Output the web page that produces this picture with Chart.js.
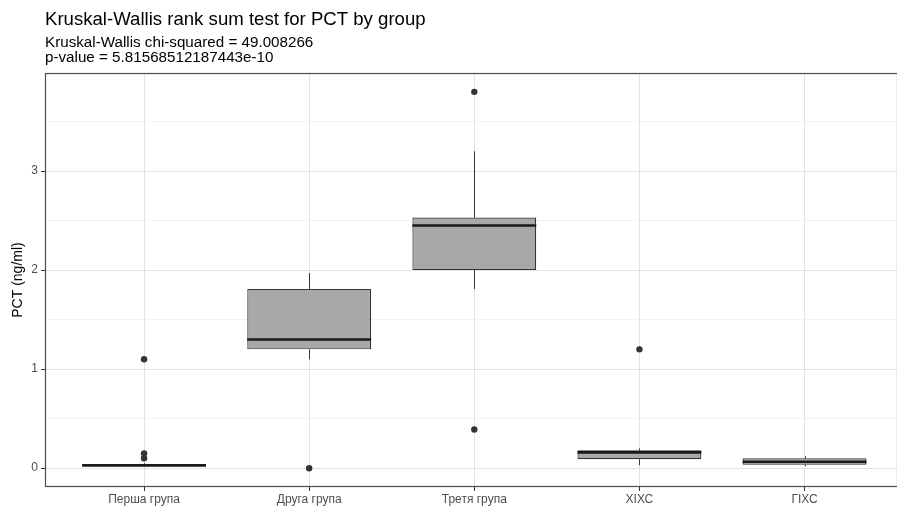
<!DOCTYPE html>
<html>
<head>
<meta charset="utf-8">
<script src="https://cdn.jsdelivr.net/npm/chart.js@4.4.0/dist/chart.umd.min.js"></script>
<style>
  html, body { margin: 0; padding: 0; background: #fff; overflow: hidden; }
  #wrap { width: 901px; height: 506px; }
</style>
</head>
<body>
<div id="wrap"><canvas id="chart"></canvas></div>
<script>
const groups = ['Перша група', 'Друга група', 'Третя група', 'ХІХС', 'ГІХС'];
const lowerWhisker = [0.01, 1.10, 1.81, 0.03, 0.02];
const q1 = [0.015, 1.20, 2.00, 0.09, 0.035];
const median = [0.03, 1.30, 2.45, 0.16, 0.065];
const q3 = [0.04, 1.81, 2.53, 0.18, 0.10];
const upperWhisker = [0.05, 1.97, 3.20, 0.20, 0.12];
const outliers = [[1.10, 0.15, 0.10], [0.0], [3.80, 0.39], [1.20], []];
const yTicks = [0, 0.5, 1, 1.5, 2, 2.5, 3, 3.5];

const FONT = '"Liberation Sans", Arial, sans-serif';
Chart.defaults.font.family = FONT;

// whiskers under the boxes, medians and panel border on top
const boxLines = {
  id: 'boxLines',
  beforeDatasetsDraw(chart) {
    const { ctx, scales: { x, y } } = chart;
    ctx.save();
    ctx.strokeStyle = '#333';
    ctx.lineWidth = 1;
    groups.forEach((g, i) => {
      const px = Math.round(x.getPixelForValue(i)) + 0.5;
      ctx.beginPath();
      ctx.moveTo(px, y.getPixelForValue(q3[i]));
      ctx.lineTo(px, y.getPixelForValue(upperWhisker[i]));
      ctx.moveTo(px, y.getPixelForValue(q1[i]));
      ctx.lineTo(px, y.getPixelForValue(lowerWhisker[i]));
      ctx.stroke();
    });
    ctx.restore();
  },
  afterDatasetsDraw(chart) {
    const { ctx, scales: { y }, chartArea: a } = chart;
    const bars = chart.getDatasetMeta(0).data;
    ctx.save();
    ctx.strokeStyle = '#1a1a1a';
    ctx.lineWidth = 2.6;
    bars.forEach((bar, i) => {
      const { x: cx, width } = bar.getProps(['x', 'width'], true);
      const py = y.getPixelForValue(median[i]);
      ctx.beginPath();
      ctx.moveTo(cx - width / 2, py);
      ctx.lineTo(cx + width / 2, py);
      ctx.stroke();
    });
    ctx.strokeStyle = '#4d4d4d';
    ctx.lineWidth = 1.2;
    ctx.strokeRect(a.left + 0.5, a.top + 0.5, a.right - a.left, a.bottom - a.top - 1);
    ctx.restore();
  }
};

new Chart(document.getElementById('chart'), {
  type: 'bar',
  data: {
    datasets: [
      {
        type: 'bar',
        data: groups.map((g, i) => ({ x: i, y: [q1[i], q3[i]] })),
        backgroundColor: '#a8a8a8',
        borderColor: '#333',
        borderWidth: 1.2,
        borderSkipped: false,
        barPercentage: 0.75,
        categoryPercentage: 1,
        order: 2
      },
      {
        type: 'line',
        data: outliers.flatMap((vals, i) => vals.map(v => ({ x: i, y: v }))),
        showLine: false,
        pointRadius: 3.2,
        pointBackgroundColor: '#333',
        pointBorderWidth: 0,
        order: 1
      }
    ]
  },
  options: {
    responsive: true,
    maintainAspectRatio: false,
    animation: false,
    layout: { padding: 0 },
    plugins: {
      legend: { display: false },
      tooltip: { enabled: false },
      title: {
        display: true,
        text: 'Kruskal-Wallis rank sum test for PCT by group',
        align: 'start',
        fullSize: false,
        color: '#000',
        font: { size: 18.6, weight: 'normal', lineHeight: 1.2 },
        padding: { top: 9, bottom: 3.4 }
      },
      subtitle: {
        display: true,
        text: ['Kruskal-Wallis chi-squared = 49.008266', 'p-value = 5.81568512187443e-10'],
        align: 'start',
        fullSize: false,
        color: '#000',
        font: { size: 15.2, weight: 'normal', lineHeight: 1.0 },
        padding: { top: 0, bottom: 7.9 }
      }
    },
    scales: {
      x: {
        type: 'linear',
        min: -0.6,
        max: 4.56,
        offset: false,
        afterBuildTicks: s => { s.ticks = groups.map((g, i) => ({ value: i })); },
        afterFit: s => { s.height = 19; },
        ticks: {
          callback: v => groups[v],
          autoSkip: false,
          maxRotation: 0,
          color: '#4d4d4d',
          font: { size: 12 },
          padding: 1
        },
        grid: { offset: false, color: '#e3e3e3', lineWidth: 1, tickLength: 4, tickColor: '#333' },
        border: { display: false }
      },
      y: {
        min: -0.19,
        max: 3.99,
        afterBuildTicks: s => { s.ticks = yTicks.map(v => ({ value: v })); },
        afterFit: s => { s.width = 45; },
        ticks: {
          callback: v => Number.isInteger(v) ? v : '',
          color: '#4d4d4d',
          font: { size: 12 },
          padding: 3
        },
        grid: {
          color: c => Number.isInteger(c.tick.value) ? '#e3e3e3' : '#efefef',
          lineWidth: c => Number.isInteger(c.tick.value) ? 1 : 0.8,
          tickLength: 4,
          tickColor: c => Number.isInteger(c.tick.value) ? '#333' : 'rgba(0,0,0,0)'
        },
        border: { display: false },
        title: {
          display: true,
          text: 'PCT (ng/ml)',
          color: '#000',
          font: { size: 14 },
          padding: { top: 10, bottom: 0 }
        }
      }
    }
  },
  plugins: [boxLines]
});
</script>
</body>
</html>
